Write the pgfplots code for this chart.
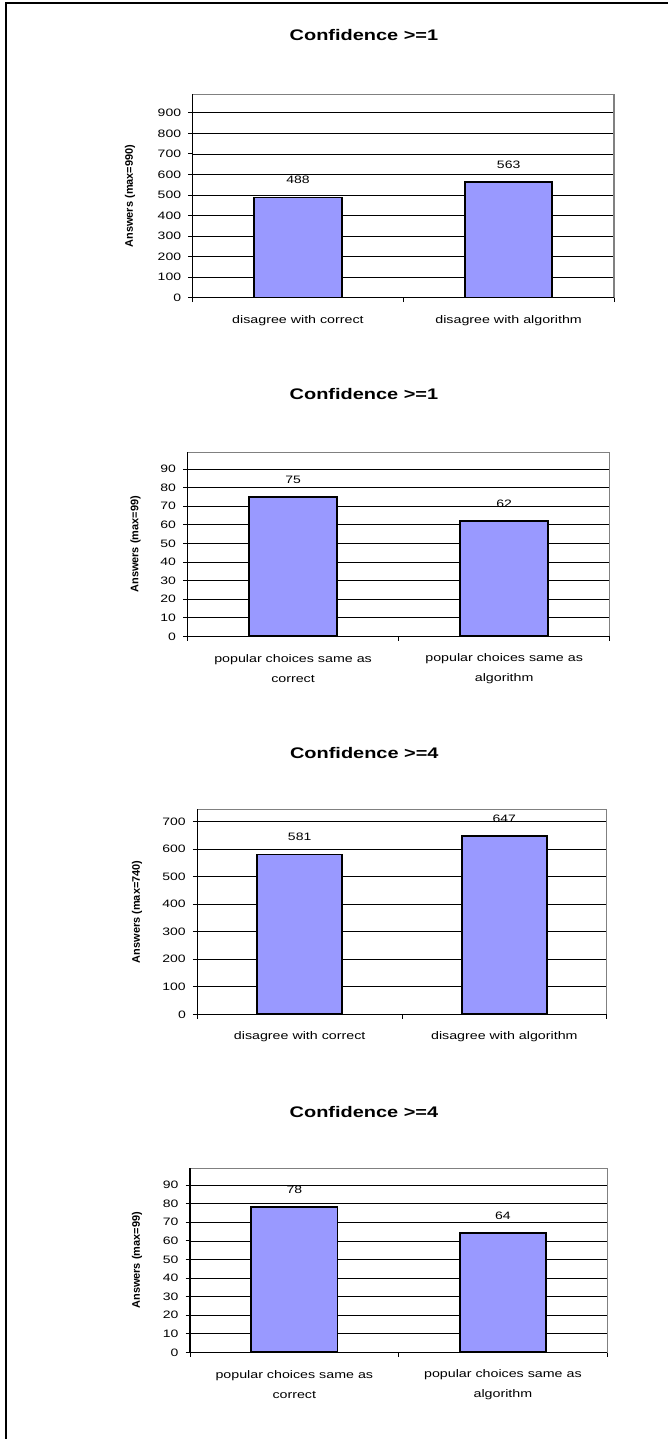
\documentclass[border=0pt]{standalone}
\usepackage{fontspec}
\setmainfont{Liberation Sans}[FakeStretch=1.3]
\newfontfamily\ylabfont{Liberation Sans}
\usepackage{pgfplots}
\pgfplotsset{compat=1.18}
\definecolor{barblue}{HTML}{9999FF}
\definecolor{framegray}{HTML}{808080}
\pgfplotsset{
  chart/.style={
    scale only axis, anchor=south west,
    xmin=-0.5, xmax=1.5, ymin=0,
    ybar, bar width=0.415,
    xtick={-0.5,0.5,1.5}, xticklabels={,,},
    xtick align=outside, ytick align=outside,
    xtick pos=bottom, ytick pos=left,
    major tick length=4.5bp,
    tick style={black, line width=0.8bp},
    extra x ticks={0,1},
    ymajorgrids, grid style={black, line width=0.6bp},
    axis line style={draw=framegray, line width=1.2bp},
    tick label style={font=\fontsize{10.8}{12}\selectfont},
    yticklabel style={xshift=-3.5bp},
    /pgf/number format/assume math mode=true,
    ylabel style={font=\ylabfont\bfseries\fontsize{11}{13}\selectfont, anchor=center},
    title style={font=\bfseries\fontsize{15.4}{18}\selectfont, anchor=center, yshift=-6.5bp},
    nodes near coords,
    nodes near coords style={font=\fontsize{10.8}{12}\selectfont, anchor=south, yshift=9.5bp, black},
    after end axis/.code={\draw[black, line width=1.2bp] (rel axis cs:0,1) -- (rel axis cs:0,0) -- (rel axis cs:1,0);},
  },
  barstyle/.style={fill=barblue, draw=black, line width=1.8bp},
}
\begin{document}
\begin{tikzpicture}
\useasboundingbox (0,0) rectangle (668bp,-1439bp);
\draw[line width=1.7bp] (5.8bp,-1439bp) -- (5.8bp,-3.2bp) -- (668bp,-3.2bp);

% Chart 1
\begin{axis}[chart, at={(192.6bp,-297.7bp)}, width=421.4bp, height=203.4bp,
  ymax=990, ytick={0,100,...,900},
  ylabel={Answers (max=990)}, ylabel style={at={(axis description cs:-0.1486,0.5)}},
  title={Confidence >=1}, title style={at={(axis description cs:0.4067,1.2916)}},
  extra x tick labels={disagree with correct,disagree with algorithm},
  extra x tick style={grid=none, major tick length=0pt,
    xticklabel style={anchor=center, align=center, font=\fontsize{11}{20}\selectfont, yshift=-23.3bp}}]
\addplot[barstyle] coordinates {(0,488) (1,563)};
\end{axis}

% Chart 2
\begin{axis}[chart, at={(187.5bp,-636.3bp)}, width=422.2bp, height=184bp,
  ymax=99, ytick={0,10,...,90},
  ylabel={Answers (max=99)}, ylabel style={at={(axis description cs:-0.1232,0.5)}},
  title={Confidence >=1}, title style={at={(axis description cs:0.418,1.3207)}},
  extra x tick labels={{popular choices same as\\correct},{popular choices same as\\algorithm}},
  extra x tick style={grid=none, major tick length=0pt,
    xticklabel style={anchor=center, align=center, font=\fontsize{11}{20}\selectfont, yshift=-32.7bp}}]
\addplot[barstyle] coordinates {(0,75) (1,62)};
\end{axis}

% Chart 3
\begin{axis}[chart, at={(197.3bp,-1014.3bp)}, width=409.4bp, height=205bp,
  ymax=745, ytick={0,100,...,700},
  ylabel={Answers (max=740)}, ylabel style={at={(axis description cs:-0.1473,0.5)}},
  title={Confidence >=4}, title style={at={(axis description cs:0.408,1.278)}},
  extra x tick labels={disagree with correct,disagree with algorithm},
  extra x tick style={grid=none, major tick length=0pt,
    xticklabel style={anchor=center, align=center, font=\fontsize{11}{20}\selectfont, yshift=-22.4bp}}]
\addplot[barstyle] coordinates {(0,581) (1,647)};
\end{axis}

% Chart 4
\begin{axis}[chart, at={(190bp,-1352.3bp)}, width=417.2bp, height=184bp,
  ymax=99, ytick={0,10,...,90},
  ylabel={Answers (max=99)}, ylabel style={at={(axis description cs:-0.127,0.5)}},
  title={Confidence >=4}, title style={at={(axis description cs:0.417,1.311)}},
  extra x tick labels={{popular choices same as\\correct},{popular choices same as\\algorithm}},
  extra x tick style={grid=none, major tick length=0pt,
    xticklabel style={anchor=center, align=center, font=\fontsize{11}{20}\selectfont, yshift=-32.7bp}}]
\addplot[barstyle] coordinates {(0,78) (1,64)};
\end{axis}
\end{tikzpicture}
\end{document}
